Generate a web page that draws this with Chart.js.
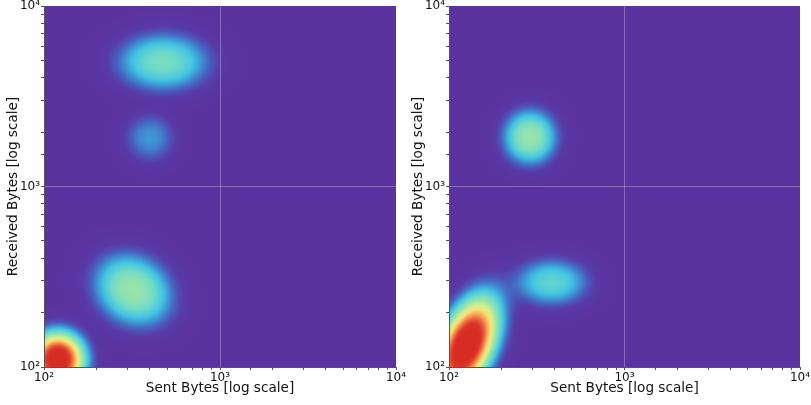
<!DOCTYPE html>
<html>
<head>
<meta charset="utf-8">
<script src="https://cdn.jsdelivr.net/npm/chart.js@4.4.1/dist/chart.umd.min.js"></script>
<style>
  body { margin: 0; background: #fff; }
  #wrap { position: relative; width: 811px; height: 405px; overflow: hidden; }
  #wrap canvas { position: absolute; top: 0; }
</style>
</head>
<body>
<div id="wrap">
  <canvas id="left" width="420" height="405" style="left:0"></canvas>
  <canvas id="right" width="406" height="405" style="left:405px"></canvas>
</div>
<script>
// axis ticks
const majorTicks = [100, 1000, 10000];
const tickLabels = ['10²', '10³', '10⁴'];

// density clusters (bytes), spread in decades, angle in degrees, peak level 0..1
const leftSentBytes     = [120, 321, 475, 400];
const leftReceivedBytes = [110, 267, 4900, 1860];
const leftSpreadX       = [0.105, 0.16, 0.18, 0.10];
const leftSpreadY       = [0.105, 0.13, 0.11, 0.095];
const leftAngle         = [0, -30, 0, 0];
const leftPeak          = [1.08, 0.40, 0.32, 0.15];

const rightSentBytes     = [126, 385, 289];
const rightReceivedBytes = [132, 295, 1880];
const rightSpreadX       = [0.20, 0.145, 0.105];
const rightSpreadY       = [0.105, 0.09, 0.105];
const rightAngle         = [65, 0, 0];
const rightPeak          = [1.1, 0.27, 0.40];

const colorStops = [
  [0.00, [90, 51, 160]],
  [0.04, [88, 58, 166]],
  [0.09, [72, 95, 190]],
  [0.15, [62, 150, 212]],
  [0.21, [66, 196, 226]],
  [0.30, [110, 218, 200]],
  [0.40, [152, 228, 170]],
  [0.52, [215, 238, 140]],
  [0.62, [250, 222, 120]],
  [0.72, [248, 170, 88]],
  [0.82, [236, 105, 62]],
  [0.92, [220, 55, 40]],
  [1.00, [214, 44, 36]]
];

function colorFor(v) {
  if (v <= 0) return colorStops[0][1];
  if (v >= 1) return colorStops[colorStops.length - 1][1];
  for (let i = 1; i < colorStops.length; i++) {
    const [t1, c1] = colorStops[i];
    if (v <= t1) {
      const [t0, c0] = colorStops[i - 1];
      const f = (v - t0) / (t1 - t0);
      return [c0[0] + (c1[0] - c0[0]) * f, c0[1] + (c1[1] - c0[1]) * f, c0[2] + (c1[2] - c0[2]) * f];
    }
  }
}

const kdePlugin = {
  id: 'kde',
  beforeDraw(chart, args, opts) {
    const { ctx, chartArea: a, scales: { x, y } } = chart;
    const w = Math.round(a.right - a.left), h = Math.round(a.bottom - a.top);
    const off = document.createElement('canvas');
    off.width = w; off.height = h;
    const octx = off.getContext('2d');
    const img = octx.createImageData(w, h);
    const lx = [], ly = [];
    for (let i = 0; i < w; i++) lx.push(Math.log10(x.getValueForPixel(a.left + i + 0.5)));
    for (let j = 0; j < h; j++) ly.push(Math.log10(y.getValueForPixel(a.top + j + 0.5)));
    const blobs = opts.sx.map((sx, k) => ({
      cx: Math.log10(sx), cy: Math.log10(opts.sy[k]),
      ax: opts.spreadX[k], ay: opts.spreadY[k],
      cos: Math.cos(opts.angle[k] * Math.PI / 180), sin: Math.sin(opts.angle[k] * Math.PI / 180),
      peak: opts.peak[k]
    }));
    for (let j = 0; j < h; j++) {
      for (let i = 0; i < w; i++) {
        let v = 0;
        for (const b of blobs) {
          const dx = lx[i] - b.cx, dy = ly[j] - b.cy;
          const u = (dx * b.cos + dy * b.sin) / b.ax;
          const t = (-dx * b.sin + dy * b.cos) / b.ay;
          const r2 = u * u + t * t;
          v += b.peak * Math.exp(-0.5 * Math.pow(r2, 1.2));
        }
        const c = colorFor(v);
        const p = (j * w + i) * 4;
        img.data[p] = c[0]; img.data[p + 1] = c[1]; img.data[p + 2] = c[2]; img.data[p + 3] = 255;
      }
    }
    octx.putImageData(img, 0, 0);
    ctx.drawImage(off, a.left, a.top);
  }
};

function axis(title, isY) {
  return {
    type: 'logarithmic',
    position: isY ? 'left' : 'bottom',
    min: 100,
    max: 10000,
    border: { display: true, color: '#555', width: 1 },
    grid: {
      color: c => (c.tick && c.tick.value === 1000) ? 'rgba(255,255,255,0.28)' : 'rgba(0,0,0,0)',
      tickColor: '#555',
      tickLength: 3,
      lineWidth: 1
    },
    ticks: {
      autoSkip: false,
      maxRotation: 0,
      padding: 1,
      color: '#111',
      font: { family: 'DejaVu Sans', size: 12 },
      callback: v => {
        const k = majorTicks.indexOf(Number(v));
        return k >= 0 ? tickLabels[k] : '';
      }
    },
    title: {
      display: true,
      text: title,
      color: '#111',
      font: { family: 'DejaVu Sans', size: 13.6 },
      padding: isY ? { top: 5, bottom: 0 } : { top: 0, bottom: 8 }
    },
    afterFit: s => {
      if (isY) s.width = 44; else s.height = 38;
      s.paddingTop = 0; s.paddingBottom = 0; s.paddingLeft = 0; s.paddingRight = 0;
    }
  };
}

function makePanel(id, sx, sy, spreadX, spreadY, angle, peak, padRight) {
  new Chart(document.getElementById(id), {
    type: 'scatter',
    data: { datasets: [{ data: [] }] },
    options: {
      responsive: false,
      animation: false,
      layout: { padding: { top: 6, right: padRight, left: 0, bottom: 0 } },
      plugins: {
        legend: { display: false },
        tooltip: { enabled: false },
        kde: { sx, sy, spreadX, spreadY, angle, peak }
      },
      scales: {
        x: axis('Sent Bytes [log scale]', false),
        y: axis('Received Bytes [log scale]', true)
      }
    },
    plugins: [kdePlugin]
  });
}

makePanel('left', leftSentBytes, leftReceivedBytes, leftSpreadX, leftSpreadY, leftAngle, leftPeak, 24);
makePanel('right', rightSentBytes, rightReceivedBytes, rightSpreadX, rightSpreadY, rightAngle, rightPeak, 11);
</script>
</body>
</html>
